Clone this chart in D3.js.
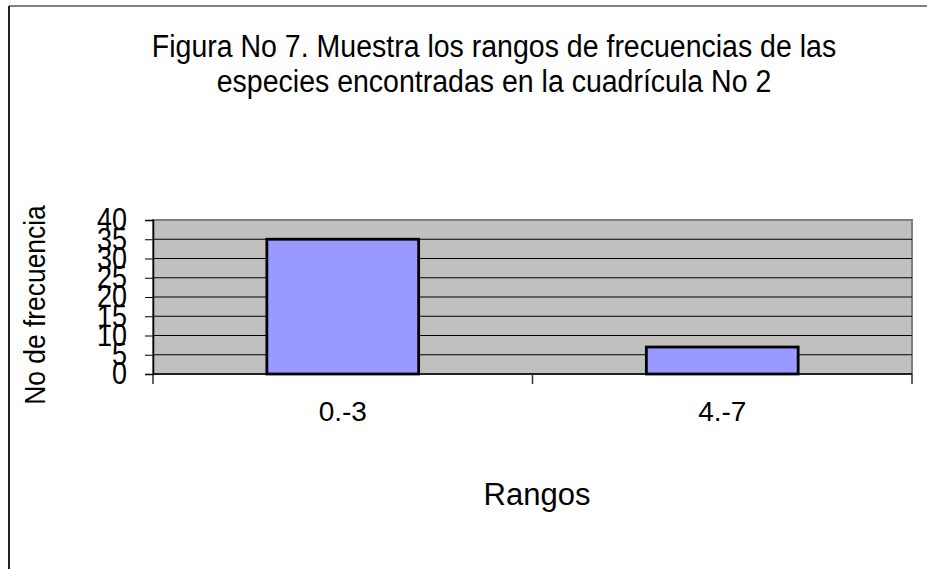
<!DOCTYPE html>
<html>
<head>
<meta charset="utf-8">
<script src="https://cdn.jsdelivr.net/npm/d3@7"></script>
<style>
  body { margin: 0; background: #fff; }
  svg text { font-family: "Liberation Sans", Arial, sans-serif; fill: #000; }
</style>
</head>
<body>
<div id="chart"></div>
<script>
const categories = ['0.-3', '4.-7'];
const values = [35, 7];
const yTicks = [0, 5, 10, 15, 20, 25, 30, 35, 40];

const W = 927, H = 569;
const margin = {left: 153, right: 15, top: 220, bottom: 195};
const width = W - margin.left - margin.right,
  height = H - margin.top - margin.bottom;

const svg = d3.select('#chart').append('svg')
  .attr('width', W)
  .attr('height', H);

// outer chart border (clipped at right/bottom like the source)
svg.append('line').attr('x1', 9).attr('y1', 6).attr('x2', W).attr('y2', 6)
  .attr('stroke', '#808080').attr('stroke-width', 2);
svg.append('line').attr('x1', 9).attr('y1', 6).attr('x2', 9).attr('y2', H)
  .attr('stroke', '#222').attr('stroke-width', 2);

const g = svg.append('g')
  .attr('transform', `translate(${margin.left},${margin.top})`);

const x = d3.scaleBand()
  .domain(categories)
  .range([0, width])
  .paddingInner(0)
  .paddingOuter(0);

const y = d3.scaleLinear()
  .domain([0, 40])
  .range([height, 0]);

// plot background
g.append('rect')
  .attr('width', width)
  .attr('height', height)
  .attr('fill', '#c0c0c0')
  .attr('stroke', '#808080')
  .attr('stroke-width', 2);

// gridlines
g.selectAll('.grid')
  .data(yTicks.slice(1, -1))
  .enter()
  .append('line')
  .attr('x1', 0)
  .attr('x2', width)
  .attr('y1', d => y(d))
  .attr('y2', d => y(d))
  .attr('stroke', '#000')
  .attr('stroke-width', 1.2);

// bars
const barW = x.bandwidth() * 0.4;
g.selectAll('.bar')
  .data(values)
  .enter()
  .append('rect')
  .attr('x', (d, i) => x(categories[i]) + (x.bandwidth() - barW) / 2)
  .attr('y', d => y(d))
  .attr('width', barW)
  .attr('height', d => height - y(d))
  .attr('fill', '#9999ff')
  .attr('stroke', '#000')
  .attr('stroke-width', 2.8);

// x axis
const xAxis = g.append('g')
  .attr('transform', `translate(0,${height})`);
xAxis.append('line')
  .attr('x1', 0).attr('x2', width)
  .attr('stroke', '#000').attr('stroke-width', 1.5);
xAxis.selectAll('.xtick')
  .data(d3.range(categories.length + 1))
  .enter()
  .append('line')
  .attr('x1', i => i * x.bandwidth())
  .attr('x2', i => i * x.bandwidth())
  .attr('y1', 0).attr('y2', 10)
  .attr('stroke', '#333').attr('stroke-width', 1.5);
xAxis.selectAll('.xlabel')
  .data(categories)
  .enter()
  .append('text')
  .attr('x', d => x(d) + x.bandwidth() / 2)
  .attr('y', 47)
  .attr('text-anchor', 'middle')
  .style('font-size', '28px')
  .text(d => d);

// y axis (labels stretched tall and overlapping, as in the source)
const sx = 0.87;
const yAxisCall = d3.axisLeft(y)
  .tickValues(yTicks)
  .tickSize(8)
  .tickPadding(18);
const yAxis = g.append('g').call(yAxisCall);
yAxis.select('.domain').attr('stroke', '#000').attr('stroke-width', 1.5);
yAxis.selectAll('line').attr('stroke', '#000');
yAxis.selectAll('text')
  .attr('x', -26 / sx)
  .attr('transform', `scale(${sx},1)`)
  .style('font-size', '31px')
  .style('font-family', '"Liberation Sans", Arial, sans-serif');

// titles
const title = ['Figura No 7. Muestra los rangos de frecuencias de las',
  'especies encontradas en la cuadrícula No 2'];
svg.selectAll('.title')
  .data(title)
  .enter()
  .append('text')
  .attr('transform', (d, i) => `translate(494,${57 + i * 35}) scale(0.92,1)`)
  .attr('text-anchor', 'middle')
  .style('font-size', '31px')
  .text(d => d);

svg.append('text')
  .attr('x', 537).attr('y', 505)
  .attr('text-anchor', 'middle')
  .style('font-size', '31px')
  .text('Rangos');

svg.append('text')
  .attr('transform', 'translate(45,305) rotate(-90) scale(0.88,1)')
  .attr('text-anchor', 'middle')
  .style('font-size', '30px')
  .text('No de frecuencia');
</script>
</body>
</html>
